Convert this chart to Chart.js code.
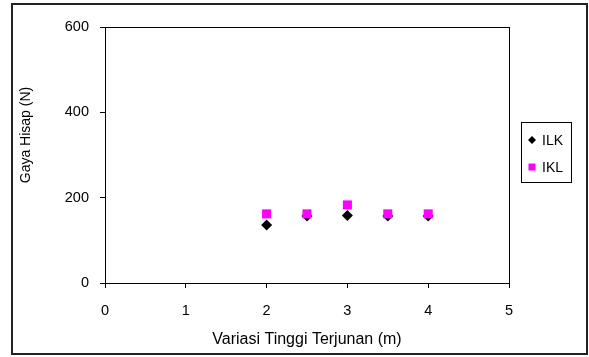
<!DOCTYPE html>
<html>
<head>
<meta charset="utf-8">
<script src="https://cdn.jsdelivr.net/npm/chart.js@4/dist/chart.umd.min.js"></script>
<style>
  html, body { margin: 0; padding: 0; background: #fff; }
  #wrap { width: 589px; height: 357px; }
</style>
</head>
<body>
<div id="wrap"><canvas id="myChart" width="589" height="357"></canvas></div>
<script>
// data
var tinggi = [2, 2.5, 3, 3.5, 4];
var gayaILK = [136, 157, 158, 157, 157];
var gayaIKL = [162, 162, 183, 162, 162];
var xTicks = [0, 1, 2, 3, 4, 5];
var yTicks = [0, 200, 400, 600];

var FONT = "'Liberation Sans', Arial, sans-serif";

function toPoints(xs, ys) {
  return xs.map(function(x, i) { return { x: x, y: ys[i] }; });
}

// outer frame, plot frame, y title and legend box
var excelLook = {
  id: 'excelLook',
  afterDraw: function(chart) {
    var ctx = chart.ctx;
    var a = chart.chartArea;
    ctx.save();
    ctx.strokeStyle = '#222';
    ctx.lineWidth = 2;
    ctx.strokeRect(12, 4, 575, 350);

    ctx.strokeStyle = '#000';
    ctx.lineWidth = 1;
    ctx.strokeRect(Math.round(a.left) + 0.5, Math.round(a.top) + 0.5,
      Math.round(a.right - a.left), Math.round(a.bottom - a.top));

    // y axis title
    ctx.fillStyle = '#000';
    ctx.font = '14px ' + FONT;
    ctx.textAlign = 'center';
    ctx.textBaseline = 'middle';
    ctx.translate(26, 135);
    ctx.rotate(-Math.PI / 2);
    ctx.fillText('Gaya Hisap (N)', 0, 0);
    ctx.restore();

    // legend
    ctx.save();
    ctx.fillStyle = '#fff';
    ctx.fillRect(521.5, 122.5, 50, 60);
    ctx.strokeStyle = '#000';
    ctx.lineWidth = 1;
    ctx.strokeRect(521.5, 122.5, 50, 60);
    ctx.font = '14px ' + FONT;
    ctx.textAlign = 'left';
    ctx.textBaseline = 'middle';
    chart.data.datasets.forEach(function(ds, i) {
      var cy = 140 + i * 27;
      var cx = 532;
      ctx.fillStyle = ds.backgroundColor;
      ctx.beginPath();
      if (ds.pointStyle === 'rectRot') {
        ctx.moveTo(cx - 4, cy);
        ctx.lineTo(cx, cy - 4);
        ctx.lineTo(cx + 4, cy);
        ctx.lineTo(cx, cy + 4);
        ctx.closePath();
      } else {
        ctx.rect(cx - 3.5, cy - 3.5, 7, 7);
      }
      ctx.fill();
      ctx.fillStyle = '#000';
      ctx.fillText(ds.label, 542, cy + 1);
    });
    ctx.restore();
  }
};

var ctx = document.getElementById('myChart');
var myChart = new Chart(ctx, {
  type: 'scatter',
  data: {
    datasets: [
      {
        label: 'ILK',
        data: toPoints(tinggi, gayaILK),
        pointStyle: 'rectRot',
        pointRadius: 5.5,
        pointHoverRadius: 5.5,
        backgroundColor: '#000000',
        borderColor: '#000000',
        borderWidth: 0,
        order: 1
      },
      {
        label: 'IKL',
        data: toPoints(tinggi, gayaIKL),
        pointStyle: 'rect',
        pointRadius: 6.4,
        pointHoverRadius: 6.4,
        backgroundColor: '#ff00ff',
        borderColor: '#ff00ff',
        borderWidth: 0,
        order: 0
      }
    ]
  },
  options: {
    responsive: false,
    animation: false,
    layout: { padding: { left: 12, right: 80, top: 27, bottom: 0 } },
    plugins: {
      legend: { display: false },
      tooltip: { enabled: false }
    },
    scales: {
      x: {
        type: 'linear',
        min: 0,
        max: 5,
        afterFit: function(scale) { scale.height = 74; },
        afterBuildTicks: function(scale) {
          scale.ticks = xTicks.map(function(v) { return { value: v }; });
        },
        grid: { drawOnChartArea: false, tickLength: 5, color: '#000', tickColor: '#000' },
        border: { color: '#000', width: 1 },
        ticks: { color: '#000', padding: 14, maxRotation: 0, font: { family: FONT, size: 14.5 } },
        title: {
          display: true,
          text: 'Variasi Tinggi Terjunan (m)',
          color: '#000',
          font: { family: FONT, size: 16 },
          padding: { top: 8, bottom: 8 }
        }
      },
      y: {
        type: 'linear',
        min: 0,
        max: 600,
        afterFit: function(scale) { scale.width = 93; },
        afterBuildTicks: function(scale) {
          scale.ticks = yTicks.map(function(v) { return { value: v }; });
        },
        grid: { drawOnChartArea: false, tickLength: 5, color: '#000', tickColor: '#000' },
        border: { color: '#000', width: 1 },
        ticks: { color: '#000', padding: 11, font: { family: FONT, size: 14.5 } }
      }
    }
  },
  plugins: [excelLook]
});
</script>
</body>
</html>
